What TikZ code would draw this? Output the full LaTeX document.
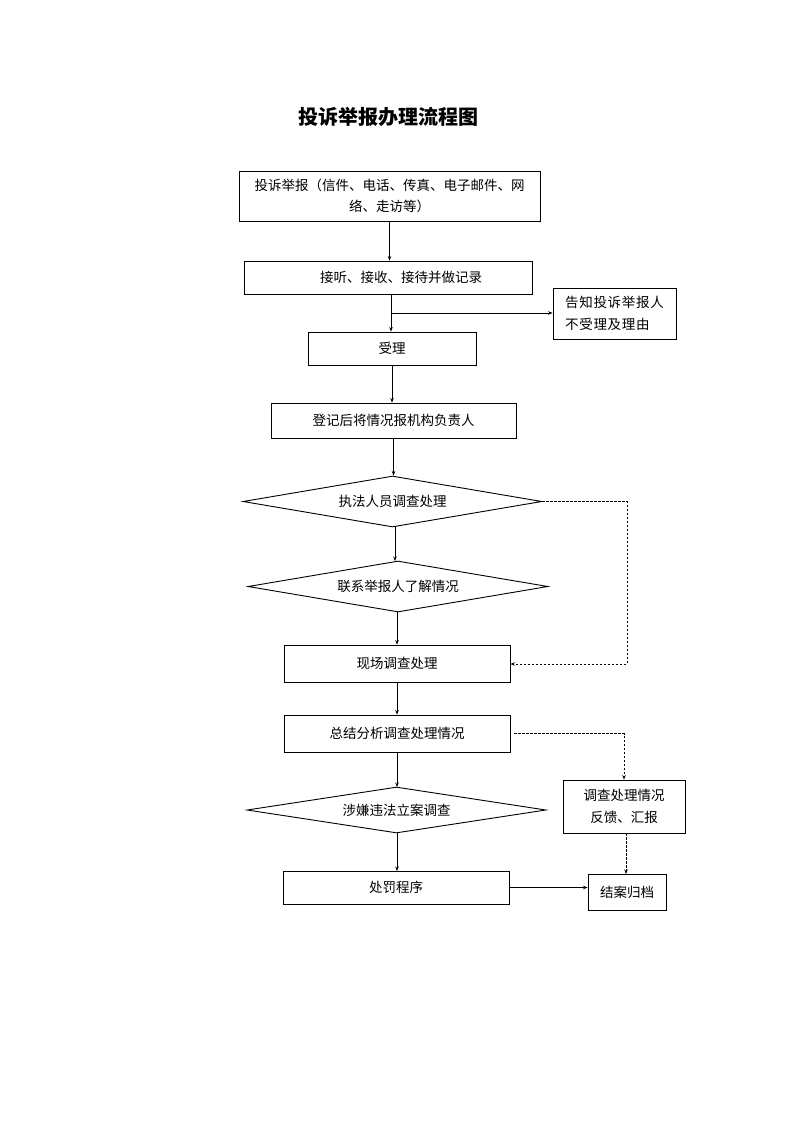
\documentclass[tikz,border=0pt]{standalone}
\usepackage{fontspec}
\setmainfont{Noto Sans CJK SC}
\usetikzlibrary{shapes.geometric,arrows.meta}
\begin{document}
\begin{tikzpicture}[x=1pt,y=-1pt,
  box/.style={draw,line width=0.9pt,inner sep=0pt,font=\fontsize{13.5}{21.5}\selectfont,align=center},
  dia/.style={draw,line width=0.9pt,diamond,shape aspect=5.9,inner sep=0pt,font=\fontsize{13.5}{17}\selectfont},
  arr/.style={line width=0.7pt,-{Stealth[length=4.5pt,width=3.5pt]}},
  darr/.style={line width=0.7pt,dash pattern=on 2.5pt off 1.5pt,-{Stealth[length=4.5pt,width=3.5pt]}}]
\useasboundingbox[fill=white] (0,0) rectangle (793,1122);
\node[font=\fontsize{20}{24}\selectfont\bfseries] (title) at (388,117) {投诉举报办理流程图};
\node[box,minimum width=301pt,minimum height=50pt] (b1) at (389.5,196) {投诉举报（信件、电话、传真、电子邮件、网\\络、走访等）};
\node[box,minimum width=288pt,minimum height=33pt] (b2) at (388,277.5) {\hspace*{26pt}接听、接收、接待并做记录};
\node[box,minimum width=123pt,minimum height=51pt,align=left,font=\fontsize{13.5}{21.5}\selectfont\addfontfeature{LetterSpace=5}] (n1) at (614.5,313.5) {告知投诉举报人\\不受理及理由};
\node[box,minimum width=168pt,minimum height=33pt] (b3) at (392,348.5) {受理};
\node[box,minimum width=245pt,minimum height=35pt] (b4) at (393.5,420.5) {登记后将情况报机构负责人};
\node[dia,minimum width=299pt,minimum height=51pt] (d1) at (392.5,501.5) {执法人员调查处理};
\node[dia,minimum width=300pt,minimum height=51pt] (d2) at (398,586.5) {联系举报人了解情况};
\node[box,minimum width=226pt,minimum height=37pt] (b5) at (397,663.5) {现场调查处理};
\node[box,minimum width=226pt,minimum height=37pt] (b6) at (397,733.5) {总结分析调查处理情况};
\node[box,minimum width=122pt,minimum height=53pt] (n2) at (624,806.5) {调查处理情况\\反馈、汇报};
\node[dia,minimum width=299pt,minimum height=46pt,shape aspect=6.5] (d3) at (396.5,810) {涉嫌违法立案调查};
\node[box,minimum width=226pt,minimum height=33pt] (b7) at (396,887.5) {处罚程序};
\node[box,minimum width=78pt,minimum height=36pt] (n3) at (627,892) {结案归档};
\coordinate (c1) at (391,313);
\coordinate (c2) at (627,501.5);
\coordinate (c3) at (627,664);
\coordinate (c4) at (624,733.5);
\draw[arr] (b1.south) -- (b1.south |- b2.north);
\draw[arr] (c1 |- b2.south) -- (c1 |- b3.north);
\draw[arr] (c1) -- (c1 -| n1.west);
\draw[arr] (b3.south) -- (b3.south |- b4.north);
\draw[arr] (b4.south) -- (b4.south |- d1.north);
\draw[arr] (395,527) -- (395,561);
\draw[arr] (397,612) -- (b5.north);
\draw[arr] (b5.south) -- (b6.north);
\draw[arr] (b6.south) -- (397,787);
\draw[arr] (397,833) -- (397,871);
\draw[arr] (b7.east) -- (b7.east -| n3.west);
\draw[darr] (d1.east) -- (c2) -- (c3) -- (c3 -| b5.east);
\draw[darr] ([xshift=4pt]b6.east) -- (c4) -- (c4 |- n2.north);
\draw[darr] (626,833) -- (626,874);
\end{tikzpicture}
\end{document}
